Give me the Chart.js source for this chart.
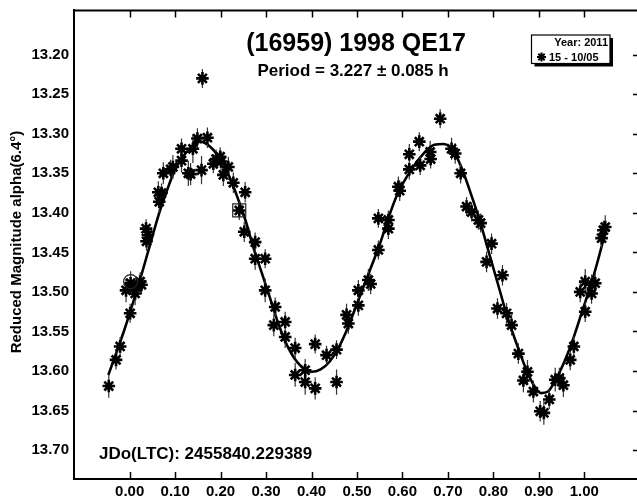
<!DOCTYPE html>
<html>
<head>
<meta charset="utf-8">
<script src="https://cdn.jsdelivr.net/npm/chart.js@4/dist/chart.umd.min.js"></script>
<style>
  html, body { margin: 0; padding: 0; background: #fff; overflow: hidden; width: 637px; height: 498px; }
  #clip { position: absolute; left: 0; top: 0; width: 637px; height: 498px; overflow: hidden; }
  #wrap { position: absolute; left: 0; top: 0; width: 660px; height: 498px; }
</style>
</head>
<body>
<div id="clip"><div id="wrap"><canvas id="c" width="660" height="498"></canvas></div></div>
<script>
// ---- data ----
const phase = [-0.046,-0.030,-0.021,-0.008,0.001,0.002,0.012,0.015,0.023,0.026,0.036,0.040,0.037,
  0.063,0.065,0.070,0.074,0.090,0.095,0.114,0.114,0.129,0.134,0.139,0.149,0.158,0.160,0.171,
  0.184,0.190,0.199,0.201,0.206,0.217,0.228,0.241,0.254,0.252,0.276,0.276,0.298,0.298,0.320,
  0.317,0.342,0.342,0.364,0.364,0.386,0.386,0.408,0.408,0.433,0.455,0.455,0.477,0.481,0.503,
  0.503,0.525,0.530,0.547,0.547,0.569,0.569,0.591,0.594,0.615,0.615,0.637,0.639,0.661,0.662,
  0.683,0.708,0.716,0.728,0.741,0.752,0.767,0.772,0.796,0.785,0.820,0.809,0.829,0.840,0.855,
  0.875,0.866,0.888,0.903,0.911,0.923,0.936,0.945,0.954,0.969,0.977,1.002,0.991,1.002,1.016,
  1.024,1.016,1.038,1.042,1.046];
const magnitude = [13.619,13.586,13.569,13.498,13.527,13.489,13.502,13.494,13.487,13.491,13.420,13.428,13.436,
  13.374,13.386,13.375,13.350,13.345,13.342,13.334,13.319,13.350,13.351,13.319,13.306,13.346,13.230,13.305,
  13.338,13.332,13.329,13.335,13.352,13.342,13.362,13.397,13.374,13.424,13.437,13.458,13.458,13.498,13.519,
  13.542,13.538,13.557,13.571,13.605,13.599,13.614,13.622,13.566,13.580,13.573,13.614,13.529,13.540,13.498,
  13.517,13.485,13.490,13.447,13.407,13.409,13.420,13.367,13.372,13.326,13.345,13.310,13.340,13.323,13.332,
  13.281,13.319,13.325,13.350,13.392,13.399,13.409,13.413,13.439,13.462,13.479,13.521,13.527,13.542,13.578,
  13.601,13.612,13.626,13.651,13.653,13.636,13.611,13.609,13.618,13.586,13.569,13.525,13.500,13.487,13.491,
  13.489,13.502,13.432,13.422,13.418];
const magError = [0.015,0.012,0.012,0.015,0.012,0.015,0.015,0.012,0.012,0.012,0.012,0.012,0.012,
  0.014,0.014,0.012,0.014,0.012,0.015,0.015,0.013,0.016,0.014,0.018,0.013,0.018,0.012,0.013,
  0.012,0.012,0.012,0.013,0.014,0.013,0.013,0.012,0.013,0.013,0.012,0.014,0.012,0.015,0.012,
  0.014,0.013,0.014,0.013,0.015,0.014,0.016,0.014,0.012,0.012,0.012,0.016,0.014,0.013,0.013,
  0.013,0.014,0.013,0.012,0.012,0.012,0.013,0.013,0.013,0.013,0.013,0.012,0.012,0.014,0.012,
  0.012,0.014,0.013,0.013,0.012,0.012,0.012,0.012,0.013,0.013,0.013,0.013,0.013,0.013,0.013,
  0.015,0.015,0.014,0.013,0.015,0.012,0.015,0.013,0.015,0.013,0.013,0.013,0.013,0.016,0.013,
  0.013,0.013,0.012,0.012,0.015];
const curvePhase = [-0.047,-0.030,-0.010,0.000,0.020,0.040,0.065,0.080,0.100,0.130,0.155,0.180,0.200,
  0.220,0.240,0.255,0.270,0.290,0.310,0.330,0.350,0.375,0.400,0.420,0.440,0.460,0.480,0.500,0.530,
  0.550,0.570,0.590,0.620,0.645,0.670,0.690,0.710,0.730,0.750,0.770,0.790,0.810,0.830,0.855,0.875,
  0.890,0.905,0.920,0.935,0.955,0.975,0.995,1.015,1.030,1.046];
const curveMag = [13.605,13.578,13.545,13.527,13.490,13.450,13.400,13.375,13.345,13.320,13.310,13.318,13.333,
  13.355,13.385,13.410,13.440,13.475,13.510,13.545,13.572,13.593,13.601,13.598,13.588,13.570,13.545,13.515,13.470,
  13.440,13.405,13.375,13.345,13.326,13.314,13.313,13.320,13.343,13.375,13.410,13.450,13.490,13.530,13.572,13.602,
  13.619,13.628,13.626,13.613,13.590,13.560,13.525,13.490,13.460,13.425];
const circlePoint = [0.002, 13.487];
const squarePoint = [0.241, 13.397];
const xTickValues = [0.0,0.1,0.2,0.3,0.4,0.5,0.6,0.7,0.8,0.9,1.0];
const yTickValues = [13.20,13.25,13.30,13.35,13.40,13.45,13.50,13.55,13.60,13.65,13.70];
const titleText = "(16959) 1998 QE17";
const periodText = "Period = 3.227 \u00B1 0.085 h";
const jdText = "JDo(LTC): 2455840.229389";
const yTitle = "Reduced Magnitude alpha(6.4\u00B0)";
const legendYear = "Year: 2011";
const legendSession = "15 - 10/05";

// ---- build datasets ----
const FONT = '"Liberation Sans", Arial, Helvetica, sans-serif';
const pts = phase.map((p, i) => ({x: p, y: magnitude[i]}));
const errPts = [];
phase.forEach((p, i) => {
  errPts.push({x: p, y: magnitude[i] - magError[i]});
  errPts.push({x: p, y: magnitude[i] + magError[i]});
  errPts.push({x: p, y: null});
});
const curvePts = curvePhase.map((p, i) => ({x: p, y: curveMag[i]}));

const PLOT_RIGHT = 640, PLOT_TOP = 10;

const decor = {
  id: 'decor',
  afterDraw(chart) {
    const ctx = chart.ctx;
    const a = chart.chartArea;
    const xs = chart.scales.x, ys = chart.scales.y;
    ctx.save();
    ctx.strokeStyle = '#000';
    ctx.lineWidth = 2;
    ctx.beginPath();
    ctx.moveTo(a.left - 1, a.top); ctx.lineTo(a.right, a.top);
    ctx.moveTo(a.right, a.top); ctx.lineTo(a.right, a.bottom);
    ctx.stroke();
    ctx.lineWidth = 1.5;
    ctx.beginPath();
    xTickValues.forEach(v => {
      const px = Math.round(xs.getPixelForValue(v)) + 0.5;
      ctx.moveTo(px, a.top); ctx.lineTo(px, a.top + 7);
      ctx.moveTo(px, a.bottom); ctx.lineTo(px, a.bottom - 7);
    });
    yTickValues.forEach(v => {
      const py = Math.round(ys.getPixelForValue(v)) + 0.5;
      ctx.moveTo(a.right, py); ctx.lineTo(a.right - 7, py);
    });
    ctx.stroke();
    ctx.fillStyle = '#000';
    ctx.textAlign = 'center';
    ctx.textBaseline = 'alphabetic';
    ctx.font = 'bold 25px ' + FONT;
    ctx.fillText(titleText, 356, 51);
    ctx.font = 'bold 17px ' + FONT;
    ctx.fillText(periodText, 353, 76);
    ctx.textAlign = 'left';
    ctx.fillText(jdText, 99, 459);
    ctx.save();
    ctx.translate(17, 242);
    ctx.rotate(-Math.PI / 2);
    ctx.textAlign = 'center';
    ctx.textBaseline = 'middle';
    ctx.font = 'bold 15px ' + FONT;
    ctx.fillText(yTitle, 0, 0);
    ctx.restore();
    const bx = 531.5, by = 35, bw = 78.5, bh = 28.5;
    ctx.fillStyle = '#000';
    ctx.fillRect(bx + 3, by + 3, bw, bh);
    ctx.fillStyle = '#fff';
    ctx.fillRect(bx, by, bw, bh);
    ctx.lineWidth = 1.2;
    ctx.strokeRect(bx, by, bw, bh);
    ctx.fillStyle = '#000';
    ctx.textAlign = 'right';
    ctx.font = 'bold 11px ' + FONT;
    ctx.fillText(legendYear, 608, 46);
    ctx.textAlign = 'left';
    ctx.fillText(legendSession, 549, 61);
    ctx.lineWidth = 2;
    Chart.helpers.drawPoint(ctx, {pointStyle: 'star', radius: 4.5, rotation: 0, borderWidth: 2}, 541.5, 57);
    ctx.restore();
  }
};

const chart = new Chart(document.getElementById('c'), {
  type: 'scatter',
  data: {
    datasets: [
      { type: 'line', data: curvePts, borderColor: '#000', borderWidth: 2.6,
        pointRadius: 0, cubicInterpolationMode: 'monotone', fill: false, order: 3 },
      { type: 'line', data: errPts, borderColor: '#333', borderWidth: 1.2,
        pointRadius: 0, spanGaps: false, fill: false, order: 2 },
      { data: pts, pointStyle: 'star', pointRadius: 6.3, borderWidth: 2.6,
        borderColor: '#000', backgroundColor: '#000', order: 1 },
      { data: [{x: circlePoint[0], y: circlePoint[1]}], pointStyle: 'circle', pointRadius: 7,
        borderWidth: 1.2, borderColor: '#222', backgroundColor: 'rgba(0,0,0,0)', order: 0 },
      { data: [{x: squarePoint[0], y: squarePoint[1]}], pointStyle: 'rect', pointRadius: 9.2,
        borderWidth: 1.2, borderColor: '#222', backgroundColor: 'rgba(0,0,0,0)', order: 0 }
    ]
  },
  options: {
    responsive: false,
    animation: false,
    devicePixelRatio: 1,
    layout: { padding: { top: 10, right: 20, left: 0, bottom: 0 } },
    plugins: { legend: { display: false }, tooltip: { enabled: false } },
    elements: { line: { tension: 0.4 } },
    scales: {
      x: {
        type: 'linear', min: -0.1225, max: 1.1225,
        afterBuildTicks: s => { s.ticks = xTickValues.map(v => ({value: v})); },
        afterFit: s => { s.height = 19; s.paddingLeft = 0; s.paddingRight = 0; },
        grid: { display: true, drawOnChartArea: false, drawTicks: false },
        border: { display: true, color: '#000', width: 2 },
        ticks: { color: '#000', padding: 4, maxRotation: 0, autoSkip: false,
          font: { family: FONT, size: 15, weight: 'bold' },
          callback: v => Number(v).toFixed(2) }
      },
      y: {
        type: 'linear', reverse: true, min: 13.144, max: 13.7366,
        afterBuildTicks: s => { s.ticks = yTickValues.map(v => ({value: v})); },
        afterFit: s => { s.width = 74; s.paddingTop = 0; s.paddingBottom = 0; },
        grid: { display: true, drawOnChartArea: false, drawTicks: false },
        border: { display: true, color: '#000', width: 2 },
        ticks: { color: '#000', padding: 5, autoSkip: false,
          font: { family: FONT, size: 15, weight: 'bold' },
          callback: v => Number(v).toFixed(2) }
      }
    }
  },
  plugins: [decor]
});
// align plot-area edges with the reference frame
for (let k = 0; k < 3; k++) {
  const a = chart.chartArea;
  const p = chart.options.layout.padding;
  const dr = a.right - PLOT_RIGHT, dt = a.top - PLOT_TOP;
  if (Math.abs(dr) < 0.3 && Math.abs(dt) < 0.3) break;
  p.right = Math.max(0, p.right + dr);
  p.top = Math.max(0, p.top - dt);
  chart.update();
}
</script>
</body>
</html>
